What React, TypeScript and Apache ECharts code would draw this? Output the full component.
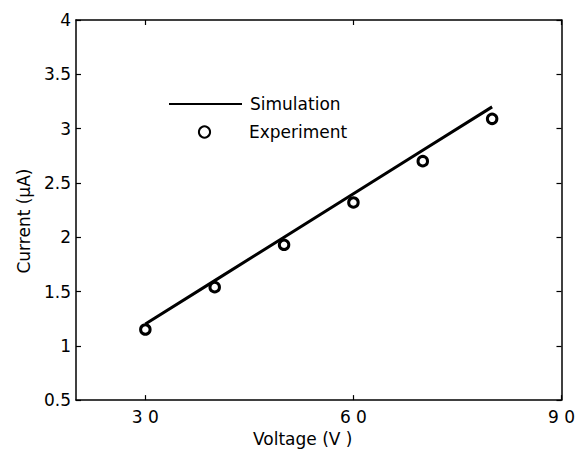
import React, { useEffect, useRef } from "react";
import * as echarts from "echarts";

const voltage = [30, 40, 50, 60, 70, 80];
const simulation = [1.2, 1.6, 2.0, 2.4, 2.8, 3.2];
const experiment = [1.15, 1.54, 1.93, 2.32, 2.7, 3.09];
const xTicks = [30, 60, 90];
const xTickLabels = ["3 0", "6 0", "9 0"];
const seriesNames = ["Simulation", "Experiment"];

const FONT = "DejaVu Sans, Verdana, sans-serif";

export default function App() {
  const ref = useRef<HTMLDivElement>(null);
  useEffect(() => {
    if (!ref.current) return;
    const chart = echarts.init(ref.current, undefined, { renderer: "svg" });
    const axisLine = { show: true, lineStyle: { color: "#000", width: 1.5 } };
    const tick = { show: true, inside: true, length: 5, lineStyle: { color: "#000", width: 1.2 } };
    const xFmt = (v: number) => {
      const i = xTicks.indexOf(v);
      return i >= 0 ? xTickLabels[i] : "";
    };
    const legendBase = {
      orient: "vertical",
      left: 168,
      padding: 0,
      itemWidth: 73,
      itemHeight: 14,
      selectedMode: false,
    };
    chart.setOption({
      animation: false,
      backgroundColor: "#fff",
      textStyle: { fontFamily: FONT },
      grid: { left: 76, right: 15, top: 20, bottom: 49, containLabel: false },
      legend: [
        {
          ...legendBase,
          top: 95,
          textStyle: { fontSize: 17, color: "#000", fontFamily: FONT, lineHeight: 14, padding: [4, 0, 0, 3] },
          data: [{ name: seriesNames[0], itemStyle: { opacity: 0 } }],
        },
        {
          ...legendBase,
          top: 121,
          textStyle: { fontSize: 17, color: "#000", fontFamily: FONT, lineHeight: 14, padding: [0, 0, 8, 3] },
          data: [{ name: seriesNames[1], lineStyle: { opacity: 0 } }],
        },
      ],
      xAxis: [
        {
          type: "value",
          min: 20,
          max: 90,
          position: "bottom",
          axisLine,
          axisTick: { ...tick, customValues: xTicks },
          axisLabel: {
            customValues: xTicks,
            formatter: xFmt,
            fontSize: 17,
            color: "#000",
            margin: 8,
            fontFamily: FONT,
          },
          splitLine: { show: false },
          name: "Voltage (V )",
          nameLocation: "middle",
          nameGap: 26,
          nameTextStyle: { fontSize: 17, color: "#000", fontFamily: FONT, padding: [0, 32, 0, 0] },
        },
        {
          type: "value",
          min: 20,
          max: 90,
          position: "top",
          axisLine,
          axisTick: { ...tick, customValues: xTicks },
          axisLabel: { show: false },
          splitLine: { show: false },
        },
      ],
      yAxis: [
        {
          type: "value",
          min: 0.5,
          max: 4,
          interval: 0.5,
          position: "left",
          axisLine,
          axisTick: tick,
          axisLabel: { fontSize: 17, color: "#000", margin: 5, fontFamily: FONT },
          splitLine: { show: false },
          name: "Current (μA)",
          nameLocation: "middle",
          nameGap: 44,
          nameTextStyle: { fontSize: 17, color: "#000", fontFamily: FONT, padding: [0, 22, 0, 0] },
        },
        {
          type: "value",
          min: 0.5,
          max: 4,
          interval: 0.5,
          position: "right",
          axisLine,
          axisTick: tick,
          axisLabel: { show: false },
          splitLine: { show: false },
        },
      ],
      series: [
        {
          name: seriesNames[0],
          type: "line",
          xAxisIndex: 0,
          yAxisIndex: 0,
          data: voltage.map((v, i) => [v, simulation[i]]),
          symbol: "none",
          lineStyle: { color: "#000", width: 3 },
          itemStyle: { color: "#000" },
          silent: true,
          emphasis: { disabled: true },
          z: 2,
        },
        {
          name: seriesNames[1],
          type: "line",
          xAxisIndex: 0,
          yAxisIndex: 0,
          data: voltage.map((v, i) => [v, experiment[i]]),
          symbol: "circle",
          symbolSize: 9.5,
          showSymbol: true,
          lineStyle: { opacity: 0, width: 0, color: "#000" },
          itemStyle: { color: "#fff", borderColor: "#000", borderWidth: 3 },
          silent: true,
          emphasis: { disabled: true },
          z: 3,
        },
      ],
    });
    return () => chart.dispose();
  }, []);
  return (
    <div
      ref={ref}
      style={{ position: "absolute", left: 0, top: 0, width: 578, height: 452 }}
    />
  );
}
